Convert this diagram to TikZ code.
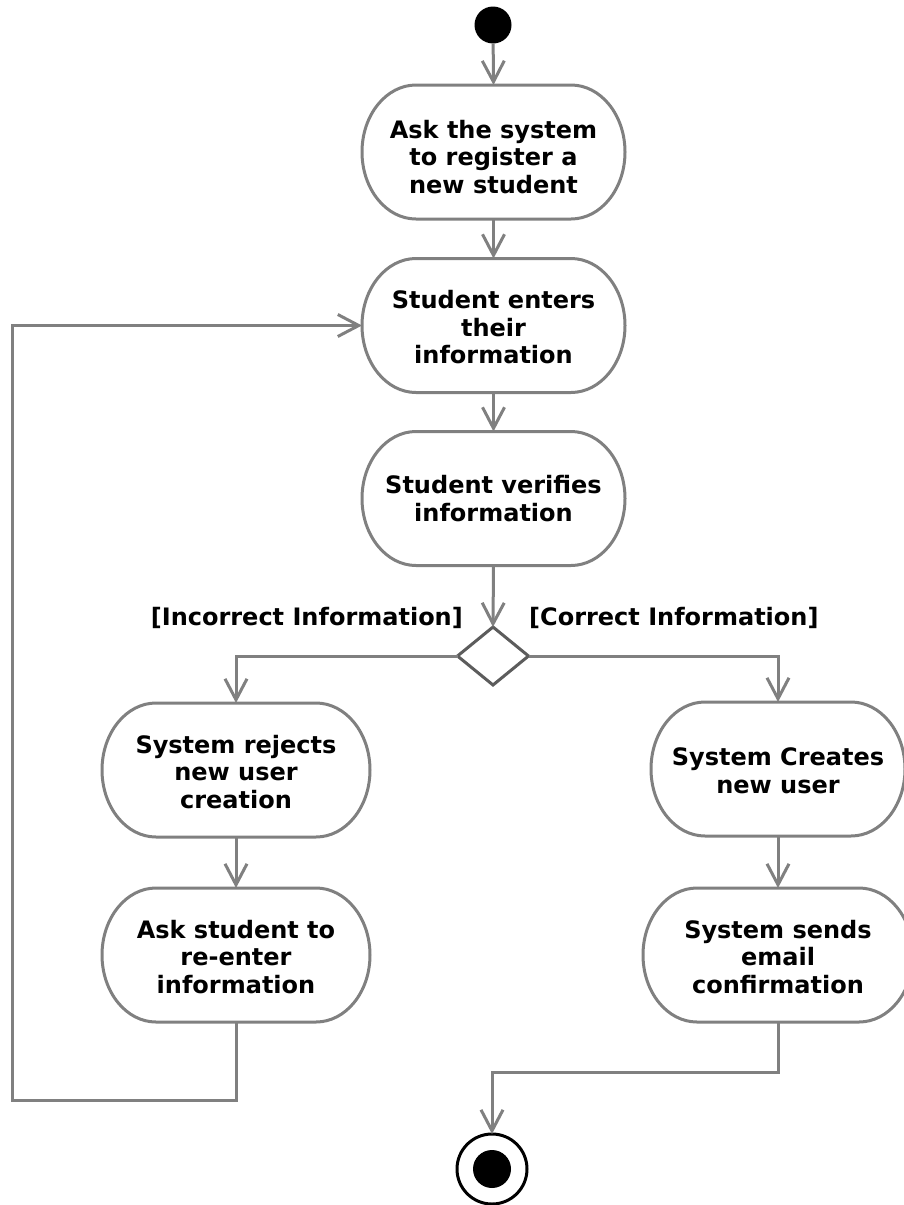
\documentclass[tikz,border=0pt]{standalone}
\usepackage{fontspec}
\newfontfamily\dvfont{DejaVu Sans}
\usetikzlibrary{arrows.meta,shapes.geometric,calc}
\definecolor{linegray}{RGB}{128,128,128}
\definecolor{diagray}{RGB}{92,92,92}
\tikzset{
  lbl/.style={font=\dvfont\bfseries\fontsize{24}{27.5}\selectfont, inner sep=0pt},
  act/.style={lbl, shape=rectangle, minimum height=134pt, align=center, inner sep=0pt, outer sep=0pt},
  conn/.style={draw=linegray, line width=3pt, -{Straight Barb[length=21pt,width=22pt,line width=3pt]}},
  plain/.style={draw=linegray, line width=3pt},
  outline/.style={draw=linegray, line width=3pt, fill=white},
}
\newcommand{\actoutline}[1]{%
  \path[outline] ([xshift=54pt]#1.north west) -- ([xshift=-54pt]#1.north east)
    arc[start angle=90,end angle=-90,x radius=54pt,y radius=67pt]
    -- ([xshift=54pt]#1.south west)
    arc[start angle=270,end angle=90,x radius=54pt,y radius=67pt] -- cycle;}
\begin{document}
\begin{tikzpicture}[x=1pt,y=-1pt]
\useasboundingbox (0,0) rectangle (903,1205);
\fill[white] (0,0) rectangle (903,1205);

% nodes (invisible frames)
\node[circle, fill=black, minimum size=37pt, inner sep=0pt, outer sep=0pt] (start) at (493,25) {};
\node[act, minimum width=263pt] (n1) at (493.5,152) {};
\node[act, minimum width=263pt] (n2) at (493.5,325.5) {};
\node[act, minimum width=263pt] (n3) at (493.5,498.5) {};
\node[act, minimum width=268pt] (n4) at (236,770) {};
\node[act, minimum width=268pt] (n5) at (236,955) {};
\node[act, minimum width=254pt] (n6) at (778,769) {};
\node[act, minimum width=270pt] (n7) at (778,955) {};
\node[diamond, draw=diagray, line width=3pt, fill=white, minimum width=71pt, minimum height=58pt, inner sep=0pt, outer sep=0pt] (dia) at (493,656) {};
\node[circle, draw=black, line width=3pt, fill=white, minimum size=70pt, inner sep=0pt, outer sep=0pt] (endc) at (492,1169) {};
\fill[black] (endc.center) circle[radius=19pt];

% outlines
\actoutline{n1}
\actoutline{n2}
\actoutline{n3}
\actoutline{n4}
\actoutline{n5}
\actoutline{n6}
\actoutline{n7}

% texts
\node[lbl, align=center] (t1) at ([yshift=-5pt]n1.center) {Ask the system\\to register a\\new student};
\node[lbl, align=center] (t2) at ([yshift=-2pt]n2.center) {Student enters\\their\\information};
\node[lbl, align=center] (t3) at (n3.center) {Student verifies\\information};
\node[lbl, align=center] (t4) at ([yshift=-2pt]n4.center) {System rejects\\new user\\creation};
\node[lbl, align=center] (t5) at ([yshift=-2pt]n5.center) {Ask student to\\re-enter\\information};
\node[lbl, align=center] (t6) at ([yshift=-2pt]n6.center) {System Creates\\new user};
\node[lbl, align=center] (t7) at ([yshift=-2pt]n7.center) {System sends\\email\\confirmation};
\node[lbl, anchor=base east] (lblL) at (463,625) {[Incorrect Information]};
\node[lbl, anchor=base west] (lblR) at (529,625) {[Correct Information]};

% loop coordinates
\coordinate (lb) at (12,1100);
\coordinate (rb) at (492,1072);

% connectors
\draw[conn] (start) -- (n1.north);
\draw[conn] (n1.south) -- (n2.north);
\draw[conn] (n2.south) -- (n3.north);
\draw[conn] (n3.south) -- (dia.north);
\draw[conn] (dia.west) -| (n4.north);
\draw[conn] (dia.east) -| (n6.north);
\draw[conn] (n4.south) -- (n5.north);
\draw[conn] (n6.south) -- (n7.north);
\draw[conn] (n5.south) |- (lb) |- (n2.west);
\draw[conn] (n7.south) |- (rb) -- (endc.north);
\end{tikzpicture}
\end{document}
